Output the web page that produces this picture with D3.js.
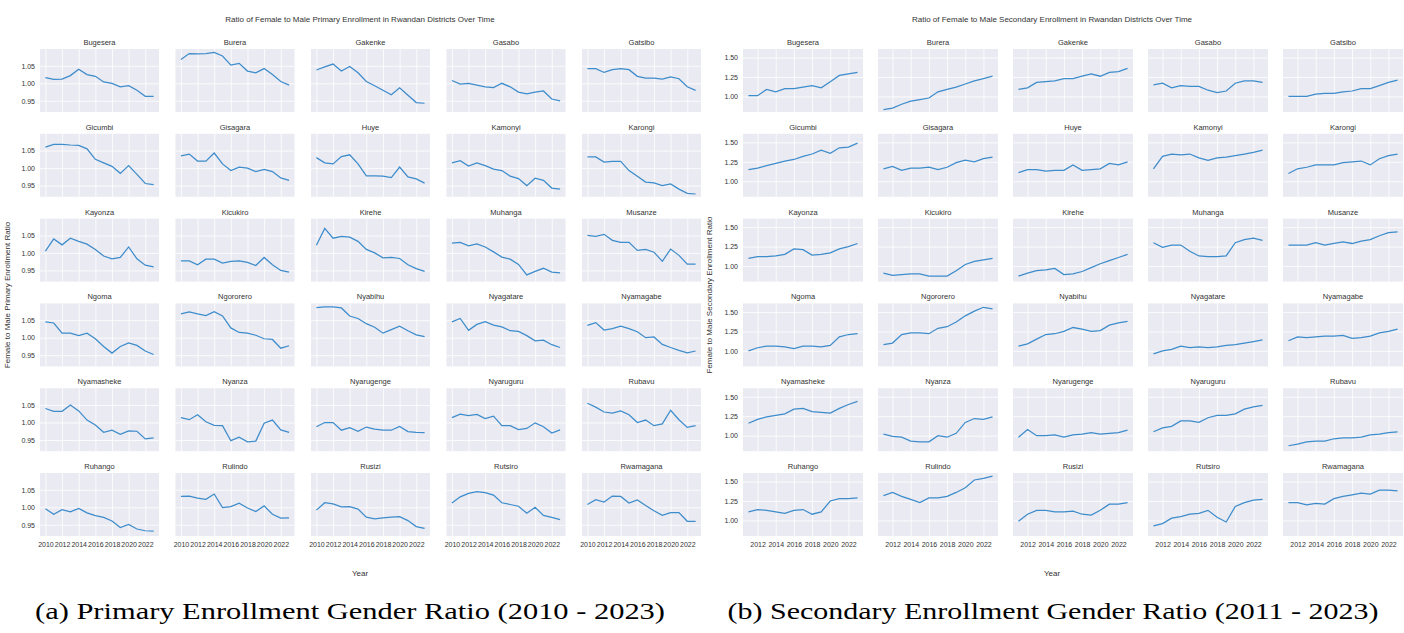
<!DOCTYPE html>
<html>
<head>
<meta charset="utf-8">
<script src="https://cdn.jsdelivr.net/npm/d3@7"></script>
<style>
  body { margin: 0; background: #fff; }
  svg { display: block; }
  .tick text { font-family: "Liberation Sans", Arial, sans-serif; font-size: 7px; fill: #333; }
  .grid line { stroke: #fff; stroke-width: 0.8; }
  .grid path { display: none; }
</style>
</head>
<body>
<svg width="1404" height="633"></svg>
<script>
// districts, same order in both panels
const districts = ['Bugesera', 'Burera', 'Gakenke', 'Gasabo', 'Gatsibo',
  'Gicumbi', 'Gisagara', 'Huye', 'Kamonyi', 'Karongi',
  'Kayonza', 'Kicukiro', 'Kirehe', 'Muhanga', 'Musanze',
  'Ngoma', 'Ngororero', 'Nyabihu', 'Nyagatare', 'Nyamagabe',
  'Nyamasheke', 'Nyanza', 'Nyarugenge', 'Nyaruguru', 'Rubavu',
  'Ruhango', 'Rulindo', 'Rusizi', 'Rutsiro', 'Rwamagana'];

const primaryYears = [2010, 2011, 2012, 2013, 2014, 2015, 2016, 2017, 2018, 2019, 2020, 2021, 2022, 2023];
const secondaryYears = [2011, 2012, 2013, 2014, 2015, 2016, 2017, 2018, 2019, 2020, 2021, 2022, 2023];

const primaryTicksX = [2010, 2012, 2014, 2016, 2018, 2020, 2022];
const secondaryTicksX = [2012, 2014, 2016, 2018, 2020, 2022];
const primaryTicksY = [0.95, 1.00, 1.05];
const secondaryTicksY = [1.00, 1.25, 1.50];

// female / male primary ratio, 2010-2023
const primaryRatio = [
  [1.016, 1.011, 1.012, 1.022, 1.040, 1.025, 1.020, 1.004, 1.000, 0.990, 0.993, 0.980, 0.963, 0.963],
  [1.068, 1.085, 1.084, 1.085, 1.088, 1.078, 1.052, 1.057, 1.035, 1.030, 1.042, 1.025, 1.005, 0.995],
  [1.038, 1.047, 1.055, 1.035, 1.048, 1.030, 1.005, 0.993, 0.980, 0.967, 0.987, 0.966, 0.945, 0.943],
  [1.008, 0.998, 1.000, 0.995, 0.990, 0.988, 1.000, 0.990, 0.975, 0.970, 0.975, 0.978, 0.955, 0.950],
  [1.042, 1.042, 1.031, 1.039, 1.042, 1.039, 1.020, 1.015, 1.015, 1.012, 1.018, 1.013, 0.990, 0.980],
  [1.060, 1.068, 1.068, 1.066, 1.065, 1.055, 1.025, 1.015, 1.005, 0.985, 1.007, 0.982, 0.956, 0.953],
  [1.035, 1.040, 1.020, 1.020, 1.043, 1.012, 0.993, 1.003, 1.000, 0.990, 0.996, 0.990, 0.972, 0.965],
  [1.030, 1.015, 1.012, 1.033, 1.038, 1.012, 0.978, 0.978, 0.977, 0.973, 1.003, 0.975, 0.969, 0.957],
  [1.015, 1.021, 1.006, 1.015, 1.007, 0.997, 0.993, 0.977, 0.970, 0.950, 0.971, 0.965, 0.943, 0.940],
  [1.032, 1.032, 1.017, 1.019, 1.019, 0.993, 0.977, 0.960, 0.958, 0.950, 0.955, 0.940, 0.928, 0.926],
  [1.005, 1.040, 1.023, 1.042, 1.033, 1.025, 1.010, 0.991, 0.983, 0.987, 1.017, 0.983, 0.965, 0.960],
  [0.977, 0.977, 0.966, 0.982, 0.982, 0.971, 0.976, 0.977, 0.973, 0.964, 0.987, 0.966, 0.950, 0.945],
  [1.022, 1.070, 1.042, 1.047, 1.045, 1.033, 1.010, 1.000, 0.986, 0.987, 0.984, 0.966, 0.955, 0.947],
  [1.028, 1.030, 1.020, 1.026, 1.017, 1.003, 0.988, 0.982, 0.967, 0.937, 0.947, 0.956, 0.945, 0.943],
  [1.050, 1.047, 1.053, 1.036, 1.030, 1.030, 1.007, 1.010, 1.002, 0.976, 1.011, 0.993, 0.968, 0.968],
  [1.045, 1.042, 1.013, 1.013, 1.006, 1.013, 0.997, 0.975, 0.956, 0.975, 0.985, 0.978, 0.962, 0.952],
  [1.068, 1.074, 1.068, 1.063, 1.074, 1.062, 1.028, 1.015, 1.013, 1.007, 0.997, 0.995, 0.970, 0.977],
  [1.086, 1.088, 1.088, 1.085, 1.062, 1.055, 1.040, 1.030, 1.013, 1.023, 1.033, 1.020, 1.008, 1.003],
  [1.045, 1.055, 1.021, 1.038, 1.046, 1.036, 1.031, 1.020, 1.018, 1.006, 0.991, 0.993, 0.980, 0.972],
  [1.035, 1.043, 1.022, 1.026, 1.033, 1.026, 1.017, 1.000, 1.002, 0.981, 0.972, 0.964, 0.957, 0.962],
  [1.040, 1.032, 1.032, 1.050, 1.033, 1.007, 0.993, 0.972, 0.978, 0.966, 0.976, 0.975, 0.953, 0.956],
  [1.014, 1.008, 1.022, 1.002, 0.992, 0.991, 0.948, 0.958, 0.945, 0.947, 0.998, 1.007, 0.979, 0.972],
  [0.988, 1.000, 1.000, 0.978, 0.985, 0.975, 0.987, 0.981, 0.978, 0.978, 0.989, 0.974, 0.972, 0.971],
  [1.014, 1.024, 1.020, 1.023, 1.011, 1.018, 0.991, 0.991, 0.980, 0.983, 0.999, 0.988, 0.970, 0.979],
  [1.055, 1.044, 1.030, 1.027, 1.033, 1.022, 1.000, 1.007, 0.991, 0.996, 1.035, 1.008, 0.986, 0.991],
  [0.996, 0.980, 0.993, 0.987, 0.997, 0.984, 0.976, 0.971, 0.961, 0.942, 0.951, 0.938, 0.933, 0.932],
  [1.031, 1.032, 1.026, 1.023, 1.038, 0.999, 1.002, 1.012, 0.998, 0.988, 1.004, 0.980, 0.969, 0.970],
  [0.992, 1.013, 1.010, 1.001, 1.002, 0.995, 0.972, 0.967, 0.970, 0.972, 0.973, 0.962, 0.945, 0.940],
  [1.012, 1.030, 1.040, 1.045, 1.042, 1.035, 1.013, 1.008, 1.003, 0.983, 1.000, 0.977, 0.971, 0.965],
  [1.008, 1.022, 1.015, 1.032, 1.031, 1.012, 1.021, 1.005, 0.990, 0.977, 0.985, 0.985, 0.960, 0.960]
];

// female / male secondary ratio, 2011-2023
const secondaryRatio = [
  [1.01, 1.01, 1.09, 1.06, 1.10, 1.10, 1.12, 1.14, 1.11, 1.19, 1.27, 1.29, 1.31],
  [0.83, 0.85, 0.90, 0.94, 0.96, 0.98, 1.06, 1.09, 1.12, 1.16, 1.20, 1.23, 1.26],
  [1.09, 1.11, 1.18, 1.19, 1.20, 1.23, 1.23, 1.26, 1.29, 1.26, 1.31, 1.32, 1.36],
  [1.15, 1.17, 1.11, 1.14, 1.13, 1.13, 1.08, 1.05, 1.07, 1.17, 1.20, 1.20, 1.18],
  [1.00, 1.00, 1.00, 1.03, 1.04, 1.04, 1.06, 1.07, 1.10, 1.10, 1.14, 1.18, 1.21],
  [1.15, 1.17, 1.20, 1.23, 1.26, 1.28, 1.32, 1.35, 1.40, 1.36, 1.43, 1.44, 1.49],
  [1.16, 1.19, 1.14, 1.17, 1.17, 1.18, 1.15, 1.18, 1.24, 1.27, 1.25, 1.29, 1.31],
  [1.11, 1.15, 1.15, 1.13, 1.14, 1.14, 1.21, 1.14, 1.15, 1.16, 1.23, 1.21, 1.25],
  [1.16, 1.32, 1.35, 1.34, 1.35, 1.30, 1.27, 1.30, 1.31, 1.33, 1.35, 1.37, 1.40],
  [1.10, 1.16, 1.18, 1.21, 1.21, 1.21, 1.24, 1.25, 1.26, 1.21, 1.29, 1.33, 1.35],
  [1.10, 1.12, 1.12, 1.13, 1.15, 1.22, 1.21, 1.14, 1.15, 1.17, 1.22, 1.25, 1.29],
  [0.91, 0.88, 0.89, 0.90, 0.90, 0.87, 0.87, 0.87, 0.94, 1.02, 1.06, 1.08, 1.10],
  [0.87, 0.91, 0.94, 0.95, 0.97, 0.89, 0.90, 0.93, 0.98, 1.03, 1.07, 1.11, 1.15],
  [1.30, 1.24, 1.27, 1.27, 1.19, 1.13, 1.12, 1.12, 1.13, 1.30, 1.34, 1.36, 1.33],
  [1.27, 1.27, 1.27, 1.30, 1.27, 1.29, 1.31, 1.29, 1.32, 1.34, 1.39, 1.43, 1.44],
  [1.00, 1.04, 1.06, 1.06, 1.05, 1.03, 1.06, 1.06, 1.05, 1.07, 1.18, 1.21, 1.22],
  [1.08, 1.10, 1.21, 1.23, 1.23, 1.22, 1.29, 1.31, 1.37, 1.45, 1.51, 1.56, 1.54],
  [1.06, 1.09, 1.15, 1.21, 1.22, 1.25, 1.30, 1.28, 1.25, 1.26, 1.33, 1.36, 1.38],
  [0.96, 1.00, 1.02, 1.06, 1.04, 1.05, 1.04, 1.05, 1.07, 1.08, 1.10, 1.12, 1.14],
  [1.13, 1.18, 1.17, 1.18, 1.19, 1.19, 1.20, 1.16, 1.17, 1.19, 1.23, 1.25, 1.28],
  [1.16, 1.21, 1.24, 1.26, 1.28, 1.34, 1.35, 1.31, 1.30, 1.29, 1.35, 1.40, 1.44],
  [1.02, 0.99, 0.98, 0.93, 0.92, 0.92, 1.00, 0.98, 1.03, 1.17, 1.22, 1.21, 1.24],
  [0.98, 1.08, 1.00, 1.00, 1.01, 0.98, 1.01, 1.02, 1.04, 1.02, 1.03, 1.04, 1.07],
  [1.05, 1.10, 1.12, 1.19, 1.19, 1.17, 1.23, 1.26, 1.26, 1.28, 1.34, 1.37, 1.39],
  [0.87, 0.89, 0.92, 0.93, 0.93, 0.96, 0.97, 0.97, 0.98, 1.01, 1.02, 1.04, 1.05],
  [1.11, 1.14, 1.13, 1.11, 1.09, 1.13, 1.14, 1.08, 1.11, 1.25, 1.28, 1.28, 1.29],
  [1.32, 1.36, 1.31, 1.27, 1.23, 1.29, 1.29, 1.31, 1.36, 1.42, 1.52, 1.54, 1.57],
  [0.99, 1.08, 1.13, 1.13, 1.11, 1.11, 1.12, 1.08, 1.07, 1.13, 1.21, 1.21, 1.23],
  [0.93, 0.96, 1.03, 1.05, 1.08, 1.09, 1.13, 1.04, 0.98, 1.18, 1.23, 1.26, 1.27],
  [1.23, 1.23, 1.20, 1.22, 1.21, 1.28, 1.31, 1.33, 1.35, 1.34, 1.39, 1.39, 1.38]
];

const svg = d3.select('svg');
const sans = '"Liberation Sans", Arial, sans-serif';
const lineColor = '#3d8ccb';

svg.append('rect').attr('width', 1404).attr('height', 633).attr('fill', '#fff');

function drawPanel(p) {
  const x = d3.scaleLinear().domain(p.xDomain).range([0, p.w]);
  const y = d3.scaleLinear().domain(p.yDomain).range([p.h, 0]);
  const line = d3.line().x((d, j) => x(p.years[j])).y(d => y(d));

  const g = svg.append('g');

  districts.forEach((name, i) => {
    const col = i % 5;
    const row = Math.floor(i / 5);
    const cell = g.append('g')
      .attr('transform', `translate(${p.left + col * p.dx},${p.top + row * p.dy})`);

    cell.append('rect')
      .attr('width', p.w).attr('height', p.h)
      .attr('fill', '#eaeaf2');

    // white grid
    cell.append('g').attr('class', 'grid')
      .call(d3.axisLeft(y).tickValues(p.yTicks).tickSize(-p.w).tickFormat(''));
    cell.append('g').attr('class', 'grid')
      .attr('transform', `translate(0,${p.h})`)
      .call(d3.axisBottom(x).tickValues(p.xTicks).tickSize(-p.h).tickFormat(''));

    cell.append('path')
      .datum(p.values[i])
      .attr('d', line)
      .attr('fill', 'none')
      .attr('stroke', lineColor)
      .attr('stroke-width', 1.25);

    cell.append('text')
      .attr('x', p.w / 2).attr('y', -4)
      .attr('text-anchor', 'middle')
      .attr('font-family', sans).attr('font-size', 7.5)
      .attr('fill', '#333')
      .text(name);

    if (col === 0) {
      const ax = cell.append('g')
        .call(d3.axisLeft(y).tickValues(p.yTicks).tickSize(0).tickPadding(5).tickFormat(d3.format('.2f')));
      ax.select('.domain').remove();
    }
    if (row === 5) {
      const ax = cell.append('g')
        .attr('transform', `translate(0,${p.h})`)
        .call(d3.axisBottom(x).tickValues(p.xTicks).tickSize(0).tickPadding(6).tickFormat(d3.format('d')));
      ax.select('.domain').remove();
    }
  });

  svg.append('text')
    .attr('x', p.cx).attr('y', 22)
    .attr('text-anchor', 'middle')
    .attr('font-family', sans).attr('font-size', 8)
    .attr('fill', '#333')
    .text(p.title);

  svg.append('text')
    .attr('x', p.cx).attr('y', 576)
    .attr('text-anchor', 'middle')
    .attr('font-family', sans).attr('font-size', 8)
    .attr('fill', '#333')
    .text('Year');

  svg.append('text')
    .attr('transform', `translate(${p.ylabX},295) rotate(-90)`)
    .attr('text-anchor', 'middle')
    .attr('font-family', sans).attr('font-size', 8)
    .attr('fill', '#333')
    .text(p.ylabel);

  svg.append('text')
    .attr('x', p.capX).attr('y', 619)
    .attr('text-anchor', 'middle')
    .attr('font-family', '"Liberation Serif", "Times New Roman", serif').attr('font-size', 23)
    .attr('textLength', p.capW).attr('lengthAdjust', 'spacingAndGlyphs')
    .attr('fill', '#000')
    .text(p.caption);
}

drawPanel({
  left: 40, top: 49, dx: 135.5, dy: 84.8, w: 119, h: 63,
  years: primaryYears, values: primaryRatio,
  xDomain: [2009.35, 2023.65], yDomain: [0.918, 1.098],
  xTicks: primaryTicksX, yTicks: primaryTicksY,
  cx: 360, ylabX: 10, capX: 350, capW: 630,
  title: 'Ratio of Female to Male Primary Enrollment in Rwandan Districts Over Time',
  ylabel: 'Female to Male Primary Enrollment Ratio',
  caption: '(a) Primary Enrollment Gender Ratio (2010 - 2023)'
});

drawPanel({
  left: 743, top: 49, dx: 135, dy: 84.8, w: 120, h: 63,
  years: secondaryYears, values: secondaryRatio,
  xDomain: [2010.4, 2023.6], yDomain: [0.80, 1.61],
  xTicks: secondaryTicksX, yTicks: secondaryTicksY,
  cx: 1052, ylabX: 712, capX: 1053, capW: 651,
  title: 'Ratio of Female to Male Secondary Enrollment in Rwandan Districts Over Time',
  ylabel: 'Female to Male Secondary Enrollment Ratio',
  caption: '(b) Secondary Enrollment Gender Ratio (2011 - 2023)'
});
</script>
</body>
</html>
